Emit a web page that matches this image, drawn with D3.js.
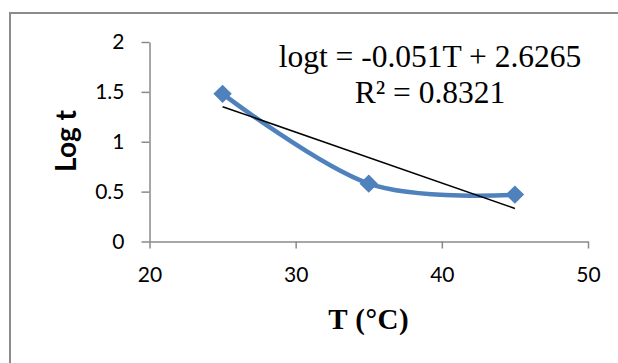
<!DOCTYPE html>
<html>
<head>
<meta charset="utf-8">
<script src="https://d3js.org/d3.v7.min.js"></script>
<style>
  body { margin: 0; background: #fff; }
  svg { display: block; }
</style>
</head>
<body>
<svg id="chart" width="618" height="363"></svg>
<script>
// data
let temps = [25, 35, 45]
let logT = [1.48, 0.58, 0.47]
let xTicks = [20, 30, 40, 50]
let yTicks = [0, 0.5, 1, 1.5, 2]
let slope = -0.051
let intercept = 2.6265
let eqLines = ['logt = -0.051T + 2.6265', 'R\u00b2 = 0.8321']

let svg = d3.select('#chart')

// outer frame, runs off the right and bottom edges
svg.append('rect')
  .attr('x', 10).attr('y', 13)
  .attr('width', 700).attr('height', 400)
  .attr('fill', 'none')
  .attr('stroke', '#8c8c8c')
  .attr('stroke-width', 2)

let x = d3.scaleLinear().domain([20, 50]).range([149.5, 588])
let y = d3.scaleLinear().domain([0, 2]).range([241.5, 42])

let axisColor = '#8a8a8a'
let tickFont = 'Lato, "Open Sans", sans-serif'

svg.append('g')
  .attr('transform', 'translate(0,' + y(0) + ')')
  .call(d3.axisBottom(x).tickValues(xTicks).tickSize(7).tickSizeOuter(0).tickPadding(19))
svg.append('g')
  .attr('transform', 'translate(' + x(20) + ',0)')
  .call(d3.axisLeft(y).tickValues(yTicks).tickSize(8).tickSizeOuter(0).tickPadding(17)
    .tickFormat(d => String(d)))

svg.selectAll('.domain, .tick line').attr('stroke', axisColor).attr('stroke-width', 1.5)
svg.selectAll('.tick text')
  .attr('fill', '#000')
  .attr('font-family', tickFont)
  .attr('font-size', '21px')

// series with Excel-ish smoothing
let pts = temps.map((t, i) => [x(t), y(logT[i])])
svg.append('path')
  .attr('d', d3.line().curve(d3.curveCardinal.tension(0))(pts))
  .attr('fill', 'none')
  .attr('stroke', '#4f81bd')
  .attr('stroke-width', 4.5)

svg.selectAll('.marker')
  .data(pts)
  .enter()
  .append('path')
  .attr('class', 'marker')
  .attr('transform', d => 'translate(' + d[0] + ',' + d[1] + ') rotate(45)')
  .attr('d', 'M-6.5,-6.5H6.5V6.5H-6.5Z')
  .attr('fill', '#4f81bd')

// linear trendline
let t0 = temps[0], t1 = temps[temps.length - 1]
svg.append('line')
  .attr('x1', x(t0)).attr('y1', y(slope * t0 + intercept))
  .attr('x2', x(t1)).attr('y2', y(slope * t1 + intercept))
  .attr('stroke', '#000')
  .attr('stroke-width', 1.5)

// trendline label
svg.append('g').selectAll('text')
  .data(eqLines)
  .enter()
  .append('text')
  .attr('x', 430)
  .attr('y', (d, i) => 67 + i * 36)
  .attr('text-anchor', 'middle')
  .attr('font-family', '"Liberation Serif", "Times New Roman", serif')
  .attr('font-size', '31.5px')
  .text(d => d)

// axis titles
svg.append('text')
  .attr('x', (x(20) + x(50)) / 2)
  .attr('y', 329)
  .attr('text-anchor', 'middle')
  .attr('font-family', '"Liberation Serif", "Times New Roman", serif')
  .attr('font-weight', 'bold')
  .attr('font-size', '29px')
  .attr('letter-spacing', '0.5px')
  .text('T (\u00b0C)')

svg.append('text')
  .attr('transform', 'translate(76,141) rotate(-90)')
  .attr('text-anchor', 'middle')
  .attr('font-family', 'Lato, "Open Sans", sans-serif')
  .attr('font-weight', 'bold')
  .attr('font-size', '28px')
  .text('Log t')
</script>
</body>
</html>
